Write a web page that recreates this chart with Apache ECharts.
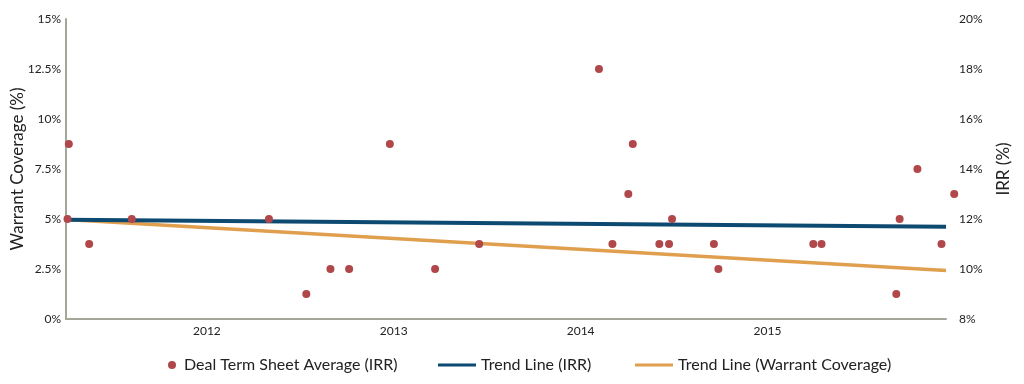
<!DOCTYPE html>
<html>
<head>
<meta charset="utf-8">
<script src="https://cdn.jsdelivr.net/npm/echarts@6/dist/echarts.min.js"></script>
<style>html,body{margin:0;padding:0;background:#fff}#c{width:1024px;height:384px}</style>
</head>
<body>
<div id="c"></div>
<script>
// Deal dates (decimal years) and IRR values (%)
var dealDates = [2011.254, 2011.261, 2011.370, 2011.598, 2012.332, 2012.532, 2012.661, 2012.761, 2012.979, 2013.221, 2013.457, 2014.098, 2014.170, 2014.255, 2014.279, 2014.421, 2014.473, 2014.489, 2014.713, 2014.737, 2015.245, 2015.289, 2015.689, 2015.707, 2015.802, 2015.931, 2015.999];
var dealIRR   = [12, 15, 11, 12, 12, 9, 10, 10, 15, 10, 11, 18, 11, 13, 15, 11, 11, 12, 11, 10, 11, 11, 9, 12, 14, 11, 13];
// Trend line endpoints
var trendDates = [2011.246, 2015.955];
var trendIRR = [11.97, 11.69];
var trendWarrant = [4.98, 2.42];
var xMin = 2011.246, xMax = 2015.955;
var yearTicks = [2012, 2013, 2014, 2015];

var font = 'Lato';
var dotColor = '#b0474a', blue = '#0d4a72', orange = '#df9f4e';
var legendText = {fontSize: 16, color: '#222', fontFamily: font};
var chart = echarts.init(document.getElementById('c'));
chart.setOption({
  animation: false,
  textStyle: {fontFamily: font},
  grid: {left: 66, right: 78, top: 19, bottom: 65, containLabel: false, outerBoundsMode: 'none'},
  legend: [
    {left: 163, top: 352, itemWidth: 14, itemHeight: 8, textStyle: legendText,
      data: [{name: 'Deal Term Sheet Average (IRR)', icon: 'circle', itemStyle: {color: dotColor, opacity: 1}}]},
    {left: 433, top: 352, itemWidth: 38, itemHeight: 3, textStyle: legendText,
      data: [{name: 'Trend Line (IRR)', icon: 'rect', itemStyle: {color: blue}}]},
    {left: 630, top: 352, itemWidth: 38, itemHeight: 3, textStyle: legendText,
      data: [{name: 'Trend Line (Warrant Coverage)', icon: 'rect', itemStyle: {color: orange}}]}
  ],
  xAxis: {
    type: 'value', min: xMin, max: xMax,
    splitLine: {show: false},
    axisTick: {show: false},
    axisLine: {lineStyle: {color: '#a6a698', width: 2}},
    axisLabel: {
      color: '#222', fontSize: 12, margin: 6,
      formatter: function (v) { return yearTicks.indexOf(Math.round(v * 1000) / 1000) >= 0 ? String(v) : ''; }
    }
  },
  yAxis: [
    {
      type: 'value', min: 0, max: 15, interval: 2.5, position: 'left',
      name: 'Warrant Coverage (%)', nameLocation: 'middle', nameGap: 40, nameMoveOverlap: false,
      nameTextStyle: {fontSize: 17, color: '#222'},
      splitLine: {show: false}, axisTick: {show: false},
      axisLine: {show: true, lineStyle: {color: '#a6a698', width: 2}},
      axisLabel: {color: '#222', fontSize: 12, margin: 5, formatter: function (v) { return v + '%'; }}
    },
    {
      type: 'value', min: 8, max: 20, interval: 2, position: 'right',
      name: 'IRR (%)', nameLocation: 'middle', nameGap: 49, nameMoveOverlap: false,
      nameTextStyle: {fontSize: 17, color: '#222'},
      splitLine: {show: false}, axisTick: {show: false},
      axisLine: {show: false},
      axisLabel: {color: '#222', fontSize: 12, margin: 13, formatter: function (v) { return v + '%'; }}
    }
  ],
  series: [
    {
      name: 'Trend Line (Warrant Coverage)', type: 'line', yAxisIndex: 0,
      data: trendDates.map(function (d, i) { return [d, trendWarrant[i]]; }),
      showSymbol: false, symbol: 'none', z: 2,
      lineStyle: {color: orange, width: 3.5}, itemStyle: {color: orange}
    },
    {
      name: 'Trend Line (IRR)', type: 'line', yAxisIndex: 1,
      data: trendDates.map(function (d, i) { return [d, trendIRR[i]]; }),
      showSymbol: false, symbol: 'none', z: 3,
      lineStyle: {color: blue, width: 4}, itemStyle: {color: blue}
    },
    {
      name: 'Deal Term Sheet Average (IRR)', type: 'scatter', yAxisIndex: 1,
      data: dealDates.map(function (d, i) { return [d, dealIRR[i]]; }),
      symbolSize: 8, clip: false, z: 4,
      itemStyle: {color: dotColor, opacity: 1}
    }
  ]
});
</script>
</body>
</html>
